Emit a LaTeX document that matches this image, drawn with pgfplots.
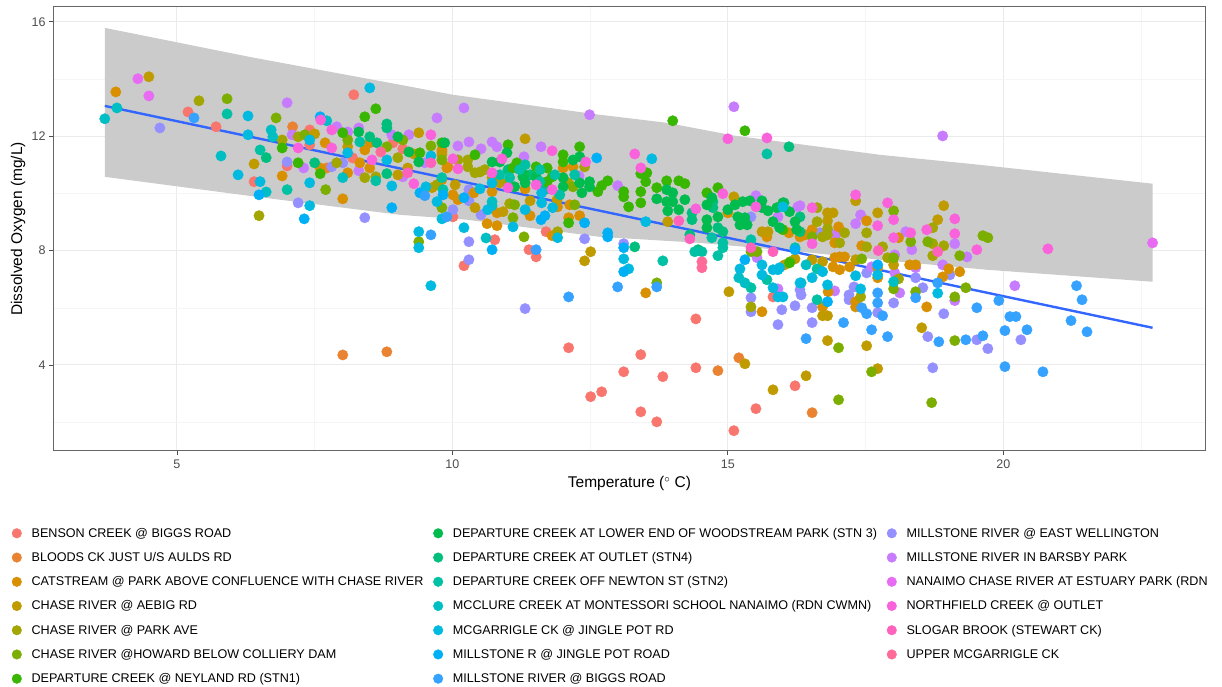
\documentclass[border=0pt]{standalone}
\usepackage{pgfplots}
\pgfplotsset{compat=1.18}
\usepackage{fontspec}
\setmainfont{Liberation Sans}
\definecolor{cA}{HTML}{F8766D}\definecolor{cB}{HTML}{EA8331}\definecolor{cC}{HTML}{D89000}\definecolor{cD}{HTML}{C09B00}
\definecolor{cE}{HTML}{A3A500}\definecolor{cF}{HTML}{7CAE00}\definecolor{cG}{HTML}{39B600}\definecolor{cH}{HTML}{00BB4E}
\definecolor{cI}{HTML}{00BF7D}\definecolor{cJ}{HTML}{00C1A3}\definecolor{cK}{HTML}{00BFC4}\definecolor{cL}{HTML}{00BAE0}
\definecolor{cM}{HTML}{00B0F6}\definecolor{cN}{HTML}{35A2FF}\definecolor{cO}{HTML}{9590FF}\definecolor{cP}{HTML}{C77CFF}
\definecolor{cQ}{HTML}{E76BF3}\definecolor{cR}{HTML}{FA62DB}\definecolor{cS}{HTML}{FF62BC}\definecolor{cT}{HTML}{FF6A98}
\definecolor{band}{HTML}{CBCBCB}\definecolor{tlab}{HTML}{4D4D4D}\definecolor{gridc}{HTML}{EBEBEB}
\newcommand\ser[2]{\addplot[forget plot,only marks,mark=*,mark size=5.2pt,color=#1,mark options={draw=none,fill=#1}] coordinates {#2};}
\newcommand\key[2]{\addlegendimage{only marks,mark=*,mark size=4.8pt,color=#1,mark options={draw=none,fill=#1}}\addlegendentry{#2}}
\begin{document}
\begin{tikzpicture}[x=1pt,y=1pt]
\path[use as bounding box] (0,0) rectangle (1222,687);
\begin{axis}[
  at={(53pt,236pt)},anchor=south west,scale only axis,width=1153pt,height=444pt,
  xmin=2.75,xmax=23.68,ymin=0.99,ymax=16.52,
  xtick={5,10,15,20},ytick={4,8,12,16},
  minor xtick={7.5,12.5,17.5,22.5},minor ytick={2,6,10,14},
  minor tick length=0pt,major tick length=4pt,tick align=outside,xtick pos=bottom,ytick pos=left,
  tick style={color=black!70,line width=0.8pt},
  axis line style={color=black!60,line width=1pt},
  grid=both,major grid style={color=gridc,line width=0.9pt},minor grid style={color=gridc!50,line width=0.4pt},
  tick label style={font=\fontsize{12.5}{14}\selectfont,text=tlab},
  xticklabel style={yshift=-1pt},
  /pgf/number format/assume math mode=true,
  xlabel={Temperature ($^\circ$ C)},ylabel={Dissolved Oxygen (mg/L)},
  label style={font=\fontsize{15.5}{17}\selectfont},
  xlabel style={at={(axis description cs:0.5,0)},anchor=north,yshift=-22pt},
  ylabel style={at={(axis description cs:0,0.5)},anchor=south,yshift=24pt},
  clip=true,
  legend style={at={(-41pt,-75pt)},anchor=north west,draw=none,fill=none,font=\fontsize{12.6}{14}\selectfont,
    /tikz/every even column/.append style={column sep=8pt},
    /tikz/every odd column/.append style={column sep=8pt},row sep=9.6pt,inner sep=0pt,outer sep=0pt,
    legend cell align=left},
  legend columns=3,
  legend image code/.code={\draw[#1] plot coordinates {(0pt,0pt)};},
]
\addplot[forget plot,fill=band,draw=none] coordinates {(3.69,15.79)(6.33,14.77)(9.05,13.80)(10.01,13.45)(12.68,12.75)(13.89,12.47)(15.09,12.03)(16.31,11.72)(17.76,11.35)(19.57,11.00)(22.71,10.34)(22.71,6.91)(19.70,7.33)(18.12,7.61)(16.31,7.96)(14.49,8.27)(12.68,8.48)(10.26,9.08)(9.05,9.25)(6.45,9.88)(3.69,10.58)} --cycle;
\ser{cA}{(5.20,12.85)(5.71,12.33)(7.41,12.22)(7.41,11.70)(6.40,10.41)(7.00,10.96)(8.21,13.45)(8.19,11.24)(8.92,11.77)(9.10,11.56)(10.01,9.18)(10.77,8.38)(10.21,7.47)(11.70,8.66)(11.39,8.03)(11.52,7.78)(15.82,6.38)(14.42,5.61)(12.11,4.60)(13.42,4.36)(13.11,3.76)(13.82,3.59)(14.42,3.90)(12.71,3.06)(12.51,2.89)(13.42,2.36)(13.71,2.01)(15.11,1.70)(15.51,2.47)(16.22,3.27)}
\ser{cB}{(8.01,4.35)(8.81,4.46)(7.10,12.33)(7.72,10.89)(15.20,4.25)(14.82,3.80)(16.53,2.33)}
\ser{cO}{(4.69,12.29)(7.00,11.10)(7.81,10.93)(8.01,11.07)(7.20,9.67)(8.41,9.15)(10.01,9.43)(10.30,9.74)(10.30,10.13)(10.52,9.25)(10.30,8.31)(10.30,7.68)(11.32,5.97)(12.40,8.41)(13.11,8.24)(15.42,9.18)(15.42,6.35)(15.42,5.86)(15.91,5.41)(16.22,6.07)(16.31,6.63)(15.98,5.93)(16.53,5.48)(16.53,6.00)(16.33,6.45)(17.20,6.28)(17.20,6.45)(17.29,6.73)(17.72,5.83)(18.01,6.17)(17.52,7.22)(16.67,8.62)(18.41,7.05)(18.54,6.70)(19.03,7.15)(18.92,5.79)(18.63,4.99)(18.72,3.90)(19.52,4.88)(20.32,4.88)(19.72,4.57)}
\ser{cP}{(7.00,13.17)(7.09,12.05)(7.30,10.89)(7.90,12.33)(8.10,12.15)(8.30,12.29)(8.90,12.05)(9.21,12.05)(8.30,10.79)(9.10,10.58)(9.50,11.07)(9.72,12.64)(10.21,12.99)(10.30,11.80)(10.10,11.66)(10.52,11.56)(10.72,11.80)(10.81,11.63)(11.30,11.28)(11.61,11.63)(12.49,12.75)(12.30,10.61)(13.00,10.27)(15.11,13.03)(15.51,9.92)(15.91,9.18)(16.27,9.53)(18.90,12.01)(15.91,6.66)(15.53,7.75)(16.31,9.57)(16.96,8.59)(17.41,9.25)(17.32,8.94)(16.94,6.59)(17.61,7.43)(18.12,6.52)(18.03,7.22)(18.03,7.85)(18.23,8.66)(18.34,8.03)(18.41,7.40)(18.90,7.50)(19.12,8.24)(19.12,6.25)(19.34,7.78)(20.21,6.77)}
\ser{cC}{(3.89,13.55)(7.69,11.77)(8.50,11.77)(8.41,11.52)(8.32,11.07)(7.60,10.89)(8.10,10.72)(8.50,10.89)(6.91,10.61)(8.01,9.81)(9.81,11.45)(9.90,10.89)(10.01,9.95)(10.10,9.78)(10.39,10.02)(10.72,10.06)(9.92,10.93)(9.81,10.48)(9.81,11.52)(10.63,8.94)(10.81,9.32)(10.81,8.87)(11.41,9.22)(11.32,10.16)(12.01,10.89)(12.19,10.93)(11.91,9.53)(12.13,9.60)(12.11,9.15)(12.31,9.22)(11.81,8.52)(13.51,6.52)(15.00,9.32)(15.71,8.48)(16.11,8.62)(16.31,8.48)(16.40,8.55)(16.53,8.73)(16.94,8.27)(17.01,8.83)(17.03,7.78)(17.12,7.78)(16.94,7.75)(16.91,7.43)(17.03,7.33)(17.21,7.43)(17.43,8.17)(17.52,9.04)(17.72,7.40)(17.72,7.05)(18.10,8.45)(18.30,7.50)(18.41,7.50)(18.61,6.03)(18.90,7.08)(19.01,7.36)(19.21,7.26)(17.32,6.21)(17.32,6.03)(16.82,6.56)(16.72,6.03)(15.62,5.86)}
\ser{cD}{(4.49,14.08)(7.50,12.08)(8.10,11.63)(6.40,11.03)(9.39,12.12)(9.30,11.38)(9.01,10.65)(9.19,10.89)(9.81,11.35)(9.63,10.20)(10.05,10.30)(10.72,10.55)(10.86,10.37)(10.41,9.50)(10.92,9.36)(11.32,11.91)(11.41,9.74)(11.90,9.78)(12.51,7.96)(12.40,7.64)(13.91,9.01)(15.02,6.56)(15.11,9.88)(15.62,8.66)(15.73,8.66)(16.03,7.50)(16.22,7.71)(16.42,3.62)(16.53,7.68)(16.72,7.61)(16.81,5.72)(16.81,4.85)(17.52,4.67)(17.72,3.87)(18.52,5.30)(16.72,5.72)(15.31,4.04)(15.82,3.13)(16.81,9.32)(16.91,9.32)(16.81,9.04)(17.32,9.74)(17.32,7.68)(17.72,9.32)(18.01,7.50)(18.81,9.08)(18.92,9.57)}
\ser{cE}{(5.40,13.24)(6.49,9.22)(6.91,11.87)(7.20,11.98)(7.90,11.07)(8.41,10.55)(8.61,10.58)(9.01,11.25)(10.10,11.17)(10.28,11.17)(10.28,10.93)(10.41,10.72)(10.50,10.75)(10.59,10.83)(11.00,10.37)(9.72,10.30)(11.04,9.64)(12.10,10.37)(12.40,10.93)(11.91,8.66)(15.42,6.03)(16.62,9.01)(16.62,9.50)(16.72,8.48)(16.81,8.55)(16.81,8.76)(17.03,8.27)(17.12,8.62)(17.52,8.62)(17.81,8.13)(17.90,7.75)(17.52,8.13)(18.10,7.01)(17.41,6.38)(18.72,8.80)(18.72,8.24)(18.72,7.82)(18.92,8.17)}
\ser{cF}{(5.91,13.31)(6.80,12.64)(7.32,12.05)(8.10,11.87)(8.81,11.63)(9.10,11.87)(7.70,10.13)(9.61,11.66)(9.81,11.17)(9.81,9.50)(9.39,8.31)(11.10,9.15)(11.13,9.60)(12.22,9.60)(12.19,10.23)(11.30,8.48)(13.71,6.87)(15.42,7.96)(15.53,7.96)(16.13,7.61)(16.53,8.48)(17.43,7.71)(18.01,7.75)(18.01,9.39)(18.32,8.31)(18.63,8.31)(18.01,6.66)(18.41,6.56)(19.12,6.38)(19.32,6.70)(19.12,4.85)(17.01,4.60)(17.61,3.76)(17.01,2.78)(18.70,2.68)(19.21,7.82)(19.63,8.52)(19.72,8.45)}
\ser{cI}{(6.62,11.25)(7.50,11.07)(8.81,12.43)(8.81,12.29)(8.50,11.98)(8.63,11.77)(8.81,10.69)(11.01,10.83)(11.41,10.65)(11.68,10.13)(14.35,9.32)(14.35,9.08)(14.73,9.71)(14.73,9.50)(14.82,8.80)(14.91,8.66)(14.31,8.55)(14.46,8.03)(16.11,11.63)(13.31,8.13)(16.31,9.18)(16.31,8.66)(16.02,9.67)}
\ser{cG}{(6.91,11.59)(7.20,11.07)(7.60,10.69)(8.01,12.12)(8.61,12.96)(8.41,12.68)(9.81,11.77)(9.41,11.42)(10.41,11.35)(11.01,11.70)(11.17,11.07)(11.10,10.89)(11.52,10.93)(11.72,10.89)(12.01,11.35)(12.01,11.10)(12.31,11.63)(11.81,10.58)(11.72,10.41)(12.11,8.97)(12.64,10.06)(12.71,10.27)(12.82,10.44)(13.11,10.06)(13.11,9.88)(13.20,9.53)(13.42,10.69)(13.53,10.72)(13.51,10.41)(13.42,10.06)(13.42,9.67)(13.71,10.20)(13.89,10.44)(14.11,10.44)(14.22,10.34)(14.00,12.54)(15.31,12.19)(16.00,8.73)(16.12,7.57)(14.82,10.20)(14.62,10.02)}
\ser{cH}{(8.30,12.15)(9.01,11.98)(9.21,11.45)(9.39,11.10)(9.86,11.77)(10.72,11.10)(10.86,11.10)(10.99,11.42)(11.30,10.65)(11.28,10.58)(11.32,10.37)(11.13,10.23)(11.52,10.58)(12.01,10.55)(12.01,10.23)(12.19,11.17)(12.31,11.28)(12.31,10.37)(12.49,10.41)(12.49,10.23)(12.35,10.02)(13.89,10.13)(14.00,10.02)(13.71,9.81)(13.89,9.71)(14.00,9.71)(13.91,9.39)(14.11,9.43)(14.22,9.78)(14.71,9.85)(14.62,9.60)(14.62,9.08)(14.82,9.18)(14.62,8.80)(15.00,9.43)(15.13,9.60)(15.27,9.71)(15.40,9.74)(15.62,9.74)(15.62,9.50)(15.73,9.39)(15.18,9.18)(15.31,9.15)(15.22,8.90)(15.35,8.90)(15.89,9.50)(16.00,9.67)(16.12,9.36)(15.82,9.01)(15.94,8.80)(16.22,9.01)(16.25,8.73)}
\ser{cJ}{(5.91,12.78)(6.51,11.52)(7.00,10.13)(8.32,11.80)(8.61,10.44)(9.81,10.55)(9.83,10.13)(15.71,11.38)(13.82,7.64)(14.82,7.82)(15.42,6.70)(15.71,6.98)(16.22,8.10)(16.62,7.36)(14.53,7.96)(14.40,7.96)(14.91,8.27)(14.91,8.10)(14.71,8.45)(15.42,8.38)(16.62,6.28)(10.86,10.65)(11.04,10.55)(11.32,11.00)(11.59,10.83)(11.86,10.65)(12.22,10.65)(11.59,10.41)(11.95,9.95)(11.22,10.83)}
\ser{cK}{(3.69,12.61)(3.91,12.99)(5.80,11.31)(6.71,12.22)(6.74,11.98)(6.62,10.05)(7.72,12.54)(8.01,10.55)(10.61,8.44)(10.72,9.71)(10.72,9.57)(15.20,7.05)(15.31,6.87)(16.42,7.50)(16.33,6.87)(18.01,6.91)}
\ser{cL}{(6.29,12.71)(6.29,12.05)(6.11,10.65)(6.51,10.41)(7.41,11.87)(7.41,10.37)(7.41,9.57)(8.10,11.42)(8.50,13.69)(8.81,11.17)(8.90,10.26)(9.61,11.31)(9.52,10.23)(9.72,9.71)(9.39,8.66)(9.39,8.10)(9.81,9.11)(9.61,6.77)(10.21,8.80)(10.64,9.43)(10.50,10.16)(10.72,10.37)(11.32,9.43)(11.10,8.83)(11.91,8.45)(11.62,9.67)(11.62,10.02)(11.82,9.50)(13.62,11.21)(13.11,7.71)(13.20,7.36)(13.51,9.01)(15.22,7.36)(15.62,7.50)(15.62,7.15)(15.82,6.70)(15.82,7.33)(15.91,7.33)(15.91,6.38)(16.00,6.38)(16.00,9.53)(16.31,6.87)(15.94,7.40)(16.53,7.05)(16.72,7.26)(16.81,6.80)(17.32,7.12)(17.41,6.66)(17.72,7.15)(18.81,6.51)}
\ser{cM}{(6.49,9.95)(7.31,9.11)(7.60,12.68)(8.90,9.50)(9.41,10.02)(9.83,9.95)(12.62,11.24)(10.21,9.85)(10.72,8.03)(12.40,8.97)(12.82,8.62)(12.82,8.48)(13.11,8.10)(13.11,7.26)(11.68,9.22)(11.61,9.08)(15.31,7.68)(16.22,8.03)(17.72,7.50)(16.81,6.21)}
\ser{cN}{(5.31,12.64)(9.50,9.92)(9.61,8.55)(9.90,9.18)(11.52,8.03)(12.11,6.38)(13.00,6.73)(13.71,6.73)(21.33,6.77)(21.43,6.28)(19.92,6.25)(19.52,6.00)(20.12,5.69)(20.23,5.69)(21.23,5.55)(21.52,5.16)(20.03,5.20)(20.43,5.23)(19.63,5.02)(19.32,4.88)(18.83,4.81)(20.03,3.94)(20.72,3.76)(17.90,4.99)(17.61,5.23)(16.42,4.92)(17.10,5.48)(17.52,5.79)(17.81,5.72)(17.72,6.17)(17.72,6.52)(17.43,6.00)(18.41,6.35)(18.81,6.87)}
\ser{cQ}{(4.29,14.01)(4.49,13.41)(22.71,8.27)}
\ser{cR}{(7.61,12.57)(7.81,12.22)(7.20,11.59)(7.81,11.59)(8.54,11.17)(9.61,12.05)(10.01,11.21)(10.10,10.86)(9.30,10.34)(10.90,11.21)(10.72,10.72)(11.01,10.20)(11.52,10.30)(11.81,10.13)(11.81,11.49)(12.42,11.10)(13.31,11.38)(13.42,10.89)(15.00,11.91)(15.71,11.94)(14.91,9.99)(15.51,9.53)(14.42,9.46)(16.53,8.24)(16.53,9.50)(17.32,9.95)(17.90,9.67)(18.01,9.08)(17.72,8.87)(18.01,8.45)(18.32,8.62)(18.61,8.73)(19.12,9.11)(19.12,8.59)(19.52,8.03)(20.81,8.06)}
\ser{cS}{(9.61,11.07)(14.11,9.04)(14.31,8.41)(15.42,8.10)(15.82,7.96)(17.73,8.00)(18.81,7.96)(9.19,10.72)}
\ser{cT}{(8.70,11.45)(14.53,7.61)(14.53,7.40)}
\addplot[forget plot,draw={rgb,255:red,51;green,102;blue,255},line width=2.4pt] coordinates {(3.69,13.06)(22.71,5.30)};
\key{cA}{BENSON CREEK @ BIGGS ROAD}
\key{cH}{DEPARTURE CREEK AT LOWER END OF WOODSTREAM PARK (STN 3)\hspace{4pt}}
\key{cO}{MILLSTONE RIVER @ EAST WELLINGTON}
\key{cB}{BLOODS CK JUST U/S AULDS RD}
\key{cI}{DEPARTURE CREEK AT OUTLET (STN4)}
\key{cP}{MILLSTONE RIVER IN BARSBY PARK}
\key{cC}{CATSTREAM @ PARK ABOVE CONFLUENCE WITH CHASE RIVER}
\key{cJ}{DEPARTURE CREEK OFF NEWTON ST (STN2)}
\key{cQ}{NANAIMO CHASE RIVER AT ESTUARY PARK (RDN}
\key{cD}{CHASE RIVER @ AEBIG RD}
\key{cK}{MCCLURE CREEK AT MONTESSORI SCHOOL NANAIMO (RDN CWMN)}
\key{cR}{NORTHFIELD CREEK @ OUTLET}
\key{cE}{CHASE RIVER @ PARK AVE}
\key{cL}{MCGARRIGLE CK @ JINGLE POT RD}
\key{cS}{SLOGAR BROOK (STEWART CK)}
\key{cF}{CHASE RIVER @HOWARD BELOW COLLIERY DAM}
\key{cM}{MILLSTONE R @ JINGLE POT ROAD}
\key{cT}{UPPER MCGARRIGLE CK}
\key{cG}{DEPARTURE CREEK @ NEYLAND RD (STN1)}
\key{cN}{MILLSTONE RIVER @ BIGGS ROAD}
\addlegendimage{empty legend}\addlegendentry{}
\end{axis}
\end{tikzpicture}
\end{document}
